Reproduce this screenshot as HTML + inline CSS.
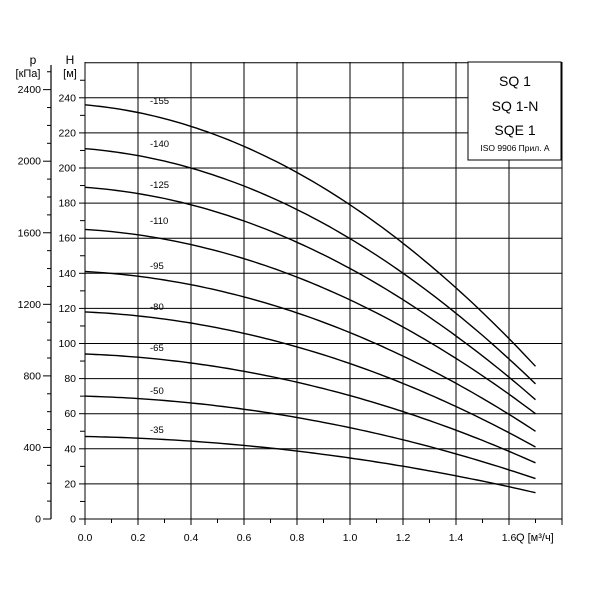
<!DOCTYPE html>
<html><head><meta charset="utf-8"><style>
body{margin:0;background:#fff}
svg{display:block;font-family:"Liberation Sans","DejaVu Sans",sans-serif}
</style></head><body>
<svg id="s" width="600" height="600" viewBox="0 0 600 600">
<rect width="600" height="600" fill="#fff"/>
<g id="g" stroke="#000" fill="none"></g>
<g id="t" font-size="10.5" fill="#000"></g>
</svg>
<script>
var g=document.getElementById('g'),t=document.getElementById('t');
var NS='http://www.w3.org/2000/svg';
function el(p,n,a,txt){var e=document.createElementNS(NS,n);for(var k in a)e.setAttribute(k,a[k]);if(txt!==undefined)e.textContent=txt;p.appendChild(e);return e;}
var x0=85,xs=(562-85)/1.8;
var y0=519,ys=1.755;
function X(q){return x0+q*xs;}function Y(h){return y0-h*ys;}
for(var i=0;i<=9;i++){var x=X(i*0.2);el(g,'line',{x1:x,y1:62,x2:x,y2:519,'stroke-width':1});}
for(var h=0;h<=260;h+=20){el(g,'line',{x1:85,y1:Y(h),x2:562,y2:Y(h),'stroke-width':1});}
for(var h=10;h<=250;h+=20){el(g,'line',{x1:80,y1:Y(h),x2:85,y2:Y(h),'stroke-width':1});}
for(var h=0;h<=240;h+=20){el(g,'line',{x1:79,y1:Y(h),x2:85,y2:Y(h),'stroke-width':1});
 el(t,'text',{x:76,y:Y(h)+3.5,'text-anchor':'end'},String(h));}
for(var i=0;i<=18;i++){el(g,'line',{x1:X(i*0.1),y1:519,x2:X(i*0.1),y2:i%2?523:525,'stroke-width':1});}
for(var i=0;i<=8;i++){el(t,'text',{x:X(i*0.2),y:541,'text-anchor':'middle'},(i*0.2).toFixed(1));}
el(t,'text',{x:516,y:541,'font-size':'11'},'Q [м³/ч]');
el(g,'line',{x1:51,y1:65,x2:51,y2:519,'stroke-width':1.2});
for(var p=0;p<=2500;p+=100){var y=y0-p/9.81*ys;var major=p%400==0;
 el(g,'line',{x1:major?43:47,y1:y,x2:51,y2:y,'stroke-width':1});
 if(major)el(t,'text',{x:41,y:y+3.5,'text-anchor':'end'},String(p));}
el(t,'text',{x:33,y:64,'text-anchor':'middle','font-size':'12'},'p');
el(t,'text',{x:28,y:77,'text-anchor':'middle','font-size':'11'},'[кПа]');
el(t,'text',{x:70,y:64,'text-anchor':'middle','font-size':'12'},'H');
el(t,'text',{x:70,y:77,'text-anchor':'middle','font-size':'11'},'[м]');
var C=[[155,236,87,101],[140,211,77,144],[125,189,68,185],[110,165,60,221],[95,141,50,266],[80,118,41,307],[65,94,32,348],[50,70,23,391],[35,47,15,430]];
C.forEach(function(c){var d='';for(var q=0;q<=1.7001;q+=0.02){var r=q/1.7;var H=c[1]-(c[1]-c[2])*(0.15*r+0.85*r*r);d+=(q?'L':'M')+X(q).toFixed(1)+' '+Y(H).toFixed(1);}
 el(g,'path',{d:d,'stroke-width':1.4});
 el(t,'text',{x:150,y:c[3]+3,'font-size':'9.5'},'-'+c[0]);});
el(g,'rect',{x:468,y:62,width:93,height:98,fill:'#fff','stroke-width':1});
el(t,'text',{x:515,y:86,'text-anchor':'middle','font-size':'14'},'SQ 1');
el(t,'text',{x:515,y:111,'text-anchor':'middle','font-size':'14'},'SQ 1-N');
el(t,'text',{x:515,y:135,'text-anchor':'middle','font-size':'14'},'SQE 1');
el(t,'text',{x:515,y:151,'text-anchor':'middle','font-size':'8.5'},'ISO 9906 Прил.  A');
</script>
</body></html>
